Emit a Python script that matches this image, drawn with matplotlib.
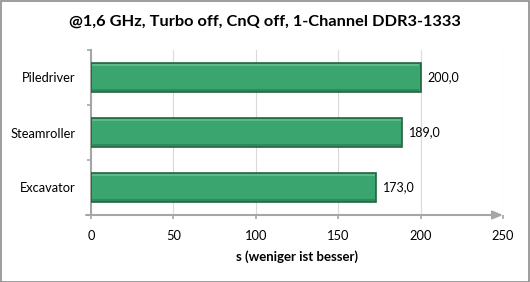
import matplotlib
matplotlib.use("Agg")
import matplotlib.pyplot as plt
from matplotlib.patches import Rectangle

categories = ["Piledriver", "Steamroller", "Excavator"]
values = [200.0, 189.0, 173.0]
xticks = [0, 50, 100, 150, 200, 250]
title = "@1,6 GHz, Turbo off, CnQ off, 1-Channel DDR3-1333"
xlabel = "s (weniger ist besser)"

plt.rcParams['font.family'] = ['Lato', 'DejaVu Sans']

W, H = 530, 282
fig = plt.figure(figsize=(W/100, H/100), dpi=100)
fig.patch.set_facecolor('white')
fig.add_artist(Rectangle((0.5/W, 0.5/H), 1-1.5/W, 1-1.5/H, transform=fig.transFigure,
                         fill=False, edgecolor='#8c8c8c', linewidth=1.2))

left, right = 91, 503
top, bottom = 50, 215
ax = fig.add_axes([left/W, 1-bottom/H, (right-left)/W, (bottom-top)/H])
ax.set_xlim(0, 250)
ax.set_ylim(len(categories)-0.5, -0.5)

ypos = list(range(len(categories)))
bh = 0.53
ax.barh(ypos, values, height=bh, color='#3ba56f', edgecolor='#24633f', linewidth=1.2, zorder=3)
for y, v in zip(ypos, values):
    ax.barh(y - bh/2 + 0.03, v - 1.5, height=0.035, left=0.75, color='#5cbb88', linewidth=0, zorder=4)
    ax.barh(y + bh/2 - 0.03, v - 1.5, height=0.035, left=0.75, color='#2f8a5a', linewidth=0, zorder=4)
    ax.text(v + 4, y, f"{v:.1f}".replace('.', ','), va='center', ha='left', fontsize=9, color='#000000', zorder=5)

ax.set_xticks(xticks)
ax.set_xticklabels([str(t) for t in xticks], fontsize=9.3)
ax.set_yticks(ypos)
ax.set_yticklabels(categories, fontsize=9.3)
ax.tick_params(axis='y', length=0, pad=11)
ax.set_yticks([-0.5, 0.5, 1.5, 2.5], minor=True)
ax.tick_params(axis='y', which='minor', length=3, width=1.2, color='#a6a6a6')
ax.tick_params(axis='x', length=3, width=1.2, color='#a6a6a6', pad=8)
ax.grid(axis='x', color='#d9d9d9', linewidth=0.8, zorder=0)
ax.set_axisbelow(True)
for s in ['top', 'right']:
    ax.spines[s].set_visible(False)
ax.spines['left'].set_color('#a6a6a6')
ax.spines['left'].set_linewidth(1.5)
ax.spines['bottom'].set_visible(False)
ax.annotate('', xy=(1.0, 0), xytext=(-0.012, 0), xycoords='axes fraction',
            arrowprops=dict(arrowstyle='-|>,head_length=0.6,head_width=0.25', color='#a6a6a6', lw=1.5,
                            shrinkA=0, shrinkB=0), zorder=6, annotation_clip=False)

ax.set_xlabel(xlabel, fontsize=9.5, fontweight='bold', labelpad=6)
fig.text(0.5, 1-22/H, title, ha='center', va='center', fontsize=11.8, fontweight='bold')

fig.savefig('out.png', dpi=100)
